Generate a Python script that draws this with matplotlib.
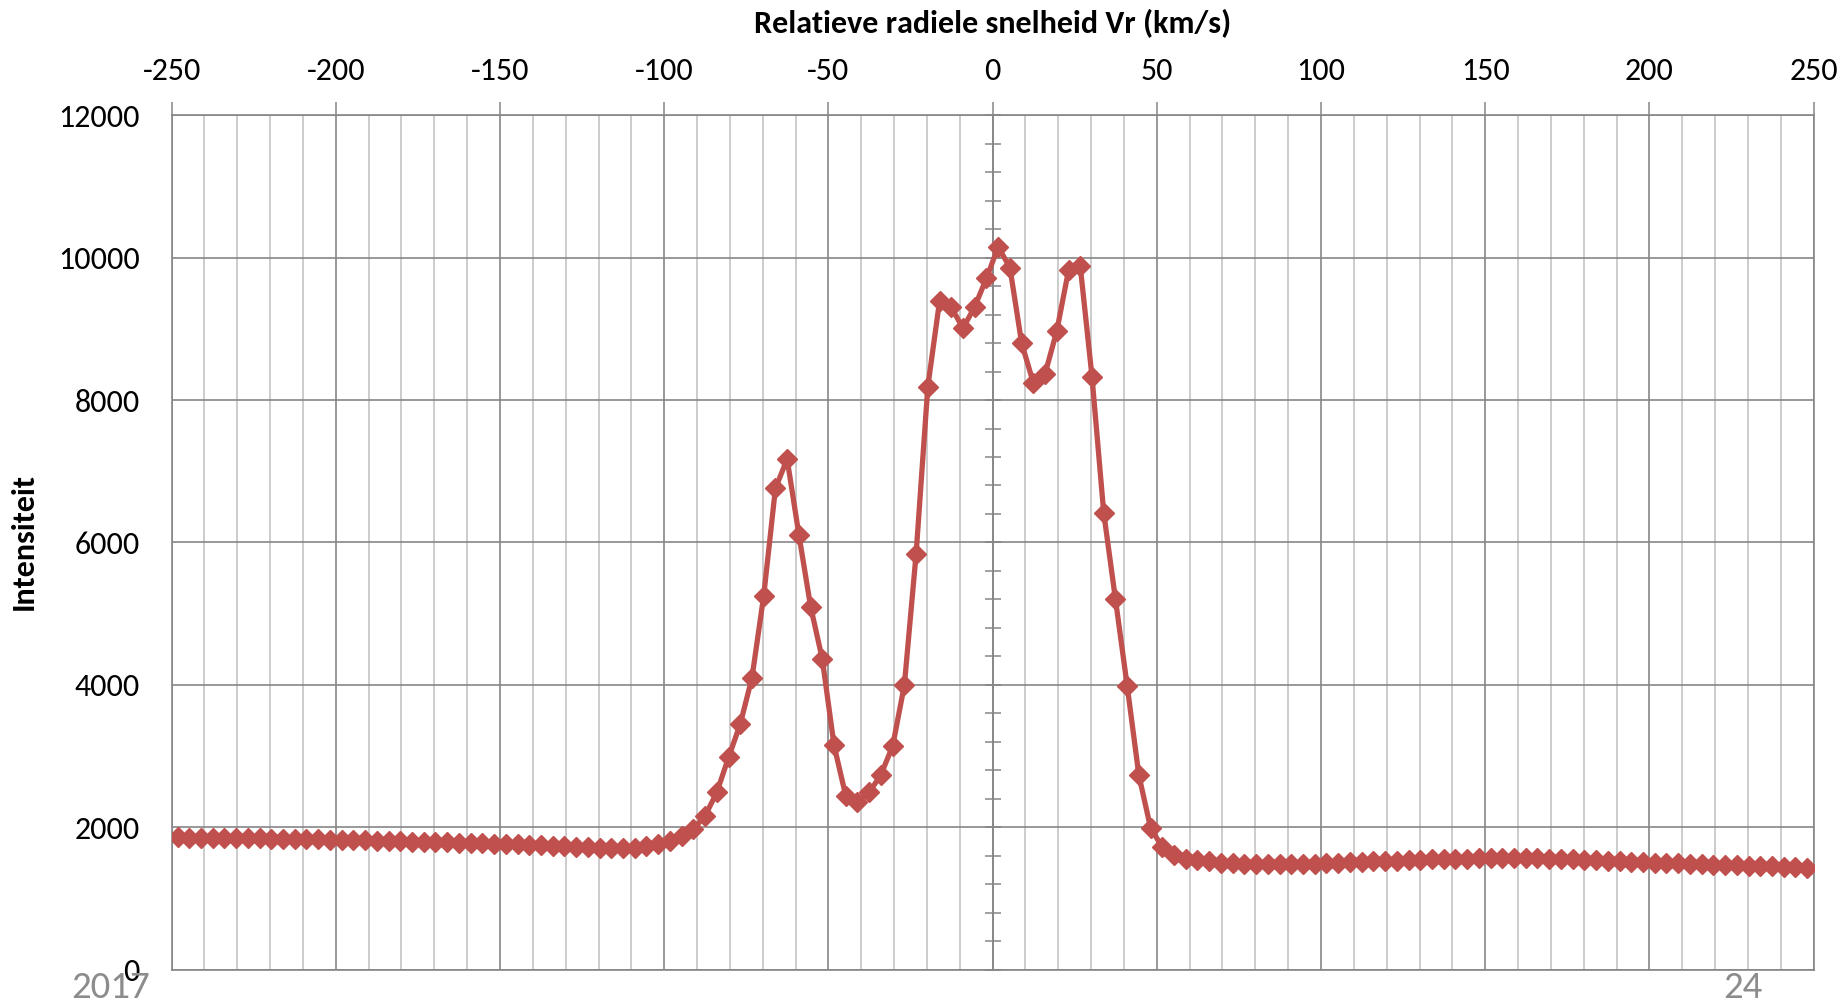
import numpy as np
import matplotlib
matplotlib.use("Agg")
import matplotlib.pyplot as plt
from matplotlib import font_manager as fm
from matplotlib.ticker import MultipleLocator

# ---------------- data ----------------
VR_START = -248.2      # km/s, first sample
VR_STEP = 3.57         # km/s, sampling step of the spectrum
intensity = [
    1860, 1855, 1850, 1852, 1848, 1850, 1845, 1847, 1842, 1840,
    1838, 1835, 1830, 1828, 1822, 1818, 1815, 1810, 1808, 1805,
    1800, 1798, 1792, 1790, 1785, 1780, 1775, 1770, 1765, 1760,
    1752, 1748, 1740, 1735, 1728, 1722, 1715, 1712, 1710, 1715,
    1735, 1770,
    1810, 1880, 1975, 2160, 2490, 2980, 3450, 4100, 5250, 6760,
    7170, 6110, 5100, 4360, 3150, 2440, 2350, 2490, 2740, 3140,
    4000, 5840, 8190, 9390, 9300, 9010, 9310, 9710,
    10150, 9860, 8800, 8240, 8370, 8970, 9820, 9880, 8330, 6420,
    5200, 3990, 2730, 1990, 1720, 1615, 1560,
    1535, 1520, 1505, 1495, 1490, 1485, 1482, 1480, 1482, 1485,
    1490, 1495, 1500, 1508, 1515, 1520, 1528, 1532, 1538, 1542,
    1548, 1552, 1555, 1560, 1565, 1568, 1570, 1570, 1568, 1565,
    1560, 1555, 1550, 1545, 1538, 1530, 1522, 1515, 1508, 1502,
    1498, 1492, 1488, 1482, 1476, 1470, 1465, 1460, 1455, 1450,
    1445, 1440, 1432,
]
vr = VR_START + VR_STEP * np.arange(len(intensity))

x_ticks = [-250, -200, -150, -100, -50, 0, 50, 100, 150, 200, 250]
y_ticks = [0, 2000, 4000, 6000, 8000, 10000, 12000]
title = "Relatieve radiele snelheid Vr (km/s)"
ylabel = "Intensiteit"
footer_left = "2017"
footer_right = "24"

# ---------------- fonts ----------------
avail = {f.name for f in fm.fontManager.ttflist}
FONT = "DejaVu Sans"
for cand in ["Carlito", "Liberation Sans Narrow", "Lato"]:
    if cand in avail:
        FONT = cand
        break
plt.rcParams["font.family"] = [FONT, "DejaVu Sans"]

W, H = 1843, 1001
fig = plt.figure(figsize=(W / 100, H / 100), dpi=100)
left, right, top, bottom = 171.6, 1813.6, 115.2, 969.7
ax = fig.add_axes([left / W, 1 - bottom / H, (right - left) / W, (bottom - top) / H])

MAJOR = "#868686"
MINOR = "#c4c4c4"
LINEC = "#C0504D"

ax.set_xlim(-250, 250)
ax.set_ylim(0, 12000)
ax.set_xticks(x_ticks)
ax.set_xticklabels([str(v) for v in x_ticks])
ax.set_yticks(y_ticks)
ax.set_yticklabels([str(v) for v in y_ticks])
ax.xaxis.set_minor_locator(MultipleLocator(10))

ax.xaxis.tick_top()
ax.tick_params(axis="x", which="major", direction="out", length=9.5, width=1.1,
               color=MAJOR, labelsize=23, pad=12, labelcolor="black")
ax.tick_params(axis="x", which="minor", length=0)
ax.tick_params(axis="y", which="both", length=0, labelsize=23, pad=23, labelcolor="black")

ax.grid(True, which="minor", axis="x", color=MINOR, lw=1.2, zorder=0)
ax.grid(True, which="major", axis="both", color=MAJOR, lw=1.2, zorder=0.5)
for s in ax.spines.values():
    s.set_color(MAJOR)
    s.set_linewidth(1.2)

# vertical axis crossing at x = 0 with minor cross ticks
ay = ax.twinx()
ay.set_ylim(0, 12000)
for name, s in ay.spines.items():
    s.set_visible(name == "right")
ay.spines["right"].set_position(("data", 0))
ay.spines["right"].set_color(MAJOR)
ay.spines["right"].set_linewidth(1.2)
ay.yaxis.set_major_locator(MultipleLocator(400))
ay.tick_params(axis="y", which="major", direction="inout", length=11, width=1.1,
               color=MAJOR, labelright=False)

ax.plot(vr, intensity, color=LINEC, lw=3.8, marker="D", ms=10.5,
        markerfacecolor=LINEC, markeredgecolor=LINEC, zorder=5, clip_on=True)
ax.set_zorder(ay.get_zorder() + 1)
ax.patch.set_visible(False)

fig.text((left + right) / 2 / W, 1 - 23.5 / H, title, ha="center", va="center",
         fontsize=23, fontweight="bold")
fig.text(23.5 / W, 1 - 542 / H, ylabel, ha="center", va="center",
         rotation=90, fontsize=23, fontweight="bold")
fig.text(110.5 / W, 1 - 987 / H, footer_left, ha="center", va="center",
         fontsize=28, color="#8c8c8c")
fig.text(1743 / W, 1 - 987 / H, footer_right, ha="center", va="center",
         fontsize=28, color="#8c8c8c")

fig.savefig("out.png", dpi=100, facecolor="white")
